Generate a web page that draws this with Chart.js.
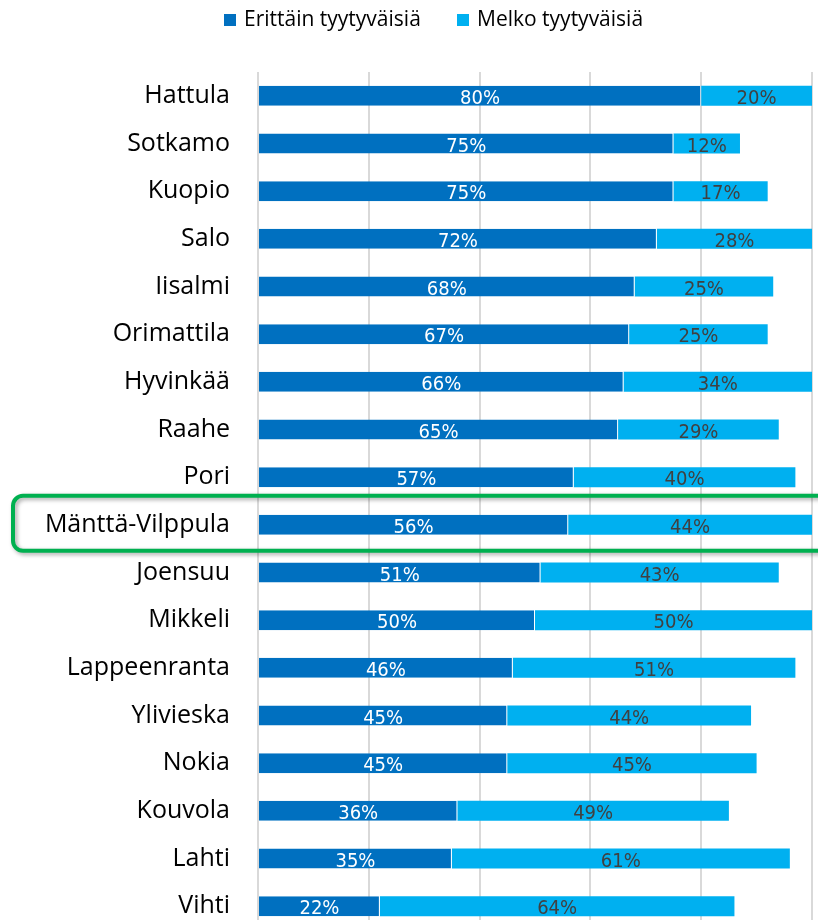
<!DOCTYPE html>
<html lang="fi">
<head>
    <meta charset="UTF-8">
    <title>Tyytyväisyys</title>
    <script src="https://cdn.jsdelivr.net/npm/chart.js"></script>
    <style>
        html, body {
            margin: 0;
            padding: 0;
            background: #fff;
            overflow: hidden;
        }
        #chart-container {
            position: relative;
            width: 818px;
            height: 930px;
        }
    </style>
</head>
<body>
    <div id="chart-container">
        <canvas id="satChart"></canvas>
    </div>
    <script>
        const cities = ['Hattula', 'Sotkamo', 'Kuopio', 'Salo', 'Iisalmi', 'Orimattila', 'Hyvinkää', 'Raahe', 'Pori',
            'Mänttä-Vilppula', 'Joensuu', 'Mikkeli', 'Lappeenranta', 'Ylivieska', 'Nokia', 'Kouvola', 'Lahti', 'Vihti'];
        const veryHappy = [80, 75, 75, 72, 68, 67, 66, 65, 57, 56, 51, 50, 46, 45, 45, 36, 35, 22];
        const fairlyHappy = [20, 12, 17, 28, 25, 25, 34, 29, 40, 44, 43, 50, 51, 44, 45, 49, 61, 64];
        const seriesNames = ['Erittäin tyytyväisiä', 'Melko tyytyväisiä'];
        const highlightCity = 'Mänttä-Vilppula';

        const darkBlue = '#0070C0';
        const lightBlue = '#00B0F0';
        const labelFont = '"Liberation Sans Narrow", "DejaVu Sans Condensed", "Roboto", sans-serif';

        // value labels inside each bar segment
        const valueLabels = {
            id: 'valueLabels',
            afterDatasetsDraw(chart) {
                const ctx = chart.ctx;
                ctx.save();
                ctx.font = '20px ' + labelFont;
                ctx.textAlign = 'center';
                ctx.textBaseline = 'middle';
                chart.data.datasets.forEach((ds, i) => {
                    const meta = chart.getDatasetMeta(i);
                    meta.data.forEach((bar, j) => {
                        const x = (bar.x + bar.base) / 2;
                        ctx.fillStyle = i === 0 ? '#ffffff' : '#404040';
                        ctx.fillText(ds.data[j] + '%', x, bar.y + 3);
                    });
                });
                ctx.restore();
            }
        };

        // legend on top + green box round the highlighted row
        const extras = {
            id: 'extras',
            afterDraw(chart) {
                const ctx = chart.ctx;
                ctx.save();
                ctx.font = '21px "Open Sans", "Noto Sans", sans-serif';
                ctx.textBaseline = 'middle';
                const items = [[224, darkBlue, seriesNames[0]], [457, lightBlue, seriesNames[1]]];
                items.forEach(([x, col, txt]) => {
                    ctx.fillStyle = col;
                    ctx.fillRect(x, 14, 12, 12);
                    ctx.fillStyle = '#000';
                    ctx.fillText(txt, x + 20, 20);
                });

                const y = chart.scales.y.getPixelForValue(cities.indexOf(highlightCity));
                ctx.shadowColor = 'rgba(0,0,0,0.35)';
                ctx.shadowBlur = 4;
                ctx.shadowOffsetX = 2;
                ctx.shadowOffsetY = 2;
                ctx.strokeStyle = '#00B050';
                ctx.lineWidth = 4;
                ctx.beginPath();
                ctx.roundRect(13, y - 29, 830, 55, 10);
                ctx.stroke();
                ctx.restore();
            }
        };

        new Chart(document.getElementById('satChart'), {
            type: 'bar',
            data: {
                labels: cities,
                datasets: [{
                    label: seriesNames[0],
                    data: veryHappy,
                    backgroundColor: darkBlue,
                    borderColor: 'rgba(255,255,255,0.7)',
                    borderWidth: { right: 1 },
                    borderSkipped: false,
                    barPercentage: 0.42,
                    categoryPercentage: 1
                }, {
                    label: seriesNames[1],
                    data: fairlyHappy,
                    backgroundColor: lightBlue,
                    borderWidth: 0,
                    barPercentage: 0.42,
                    categoryPercentage: 1
                }]
            },
            options: {
                indexAxis: 'y',
                responsive: true,
                maintainAspectRatio: false,
                animation: false,
                layout: { padding: { top: 72, right: 6, left: 0, bottom: 0 } },
                plugins: {
                    legend: { display: false },
                    tooltip: { enabled: false }
                },
                scales: {
                    x: {
                        stacked: true,
                        min: 0,
                        max: 100,
                        afterFit(scale) { scale.height = 0; scale.paddingLeft = 0; scale.paddingRight = 0; },
                        ticks: { stepSize: 20, display: false },
                        grid: { color: '#d9d9d9', lineWidth: 2, drawTicks: false },
                        border: { display: false }
                    },
                    y: {
                        stacked: true,
                        afterFit(scale) {
                            scale.width = 258;
                            scale.paddingTop = 0;
                            scale.paddingBottom = 0;
                        },
                        ticks: {
                            color: '#000',
                            padding: 28,
                            font: { family: '"Open Sans", "Noto Sans", sans-serif', size: 25 }
                        },
                        grid: { display: false, drawTicks: false },
                        border: { display: false }
                    }
                }
            },
            plugins: [valueLabels, extras]
        });
    </script>
</body>
</html>
